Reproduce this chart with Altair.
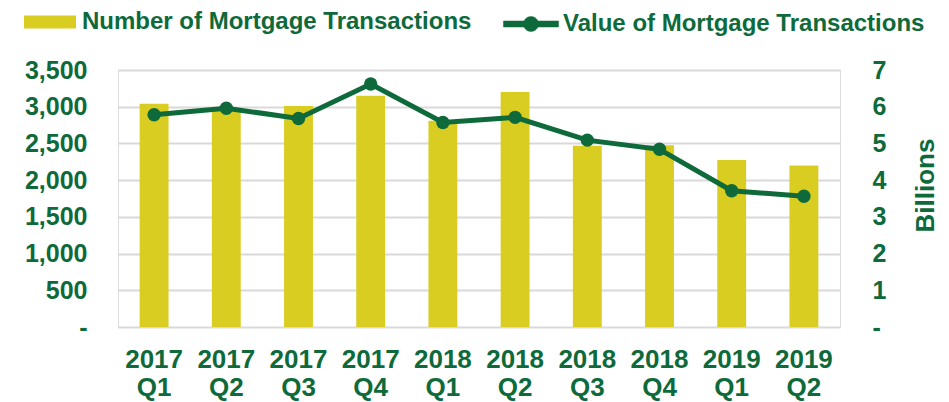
import altair as alt
import pandas as pd

quarters = ["2017 Q1", "2017 Q2", "2017 Q3", "2017 Q4", "2018 Q1",
            "2018 Q2", "2018 Q3", "2018 Q4", "2019 Q1", "2019 Q2"]
num_transactions = [3040, 2960, 3010, 3150, 2810, 3200, 2470, 2475, 2275, 2200]
value_billions = [5.78, 5.96, 5.68, 6.62, 5.57, 5.71, 5.09, 4.84, 3.71, 3.56]
bar_series = "Number of Mortgage Transactions"
line_series = "Value of Mortgage Transactions"

df = pd.DataFrame({
    "quarter": quarters,
    "count": num_transactions,
    "value": value_billions,
    "s1": bar_series,
    "s2": line_series,
})

GREEN = "#0E6A3A"
YELLOW = "#D8CD20"
GRID = "#D9D9D9"
FONT = "Liberation Sans"

x = alt.X(
    "quarter:N", sort=quarters, title=None,
    scale=alt.Scale(paddingInner=0.6, paddingOuter=0.3),
    axis=alt.Axis(labelAngle=0, labelExpr="split(datum.label, ' ')",
                  labelFontSize=26, labelFont=FONT, labelFontWeight="bold",
                  labelColor=GREEN, labelPadding=19, labelLineHeight=28,
                  ticks=False, domain=False),
)

bars = alt.Chart(df).mark_bar().encode(
    x=x,
    y=alt.Y("count:Q", title=None,
            scale=alt.Scale(domain=[0, 3500], nice=False),
            axis=alt.Axis(values=list(range(0, 3501, 500)),
                          labelExpr="datum.value == 0 ? '-' : format(datum.value, ',')",
                          grid=True, gridColor=GRID, gridWidth=2,
                          domain=False, ticks=False, labelPadding=31,
                          labelFont=FONT, labelFontSize=25, labelFontWeight="bold",
                          labelColor=GREEN)),
    fill=alt.Fill("s1:N", scale=alt.Scale(domain=[bar_series], range=[YELLOW]),
                  legend=alt.Legend(title=None, orient="none", legendX=-94, legendY=-74,
                                    symbolType="M-1,-0.25H1V0.25H-1Z", symbolSize=2704,
                                    symbolStrokeWidth=0, labelFont=FONT, labelFontSize=24,
                                    labelFontWeight="bold", labelColor=GREEN,
                                    labelOffset=6, labelLimit=600, padding=0)),
)

yr = alt.Y("value:Q", title="Billions",
           scale=alt.Scale(domain=[0, 7], nice=False),
           axis=alt.Axis(orient="right", values=list(range(0, 8)),
                         labelExpr="datum.value == 0 ? '-' : datum.label",
                         grid=False, domain=False, ticks=False, labelPadding=32,
                         labelFont=FONT, labelFontSize=25, labelFontWeight="bold",
                         labelColor=GREEN, titleFont=FONT, titleFontSize=26,
                         titleFontWeight="bold", titleColor=GREEN, titleAngle=270,
                         titleX=85, titleY=115, titleAlign="center",
                         titleBaseline="middle"))

line = alt.Chart(df).mark_line(strokeWidth=5).encode(
    x=x,
    y=yr,
    stroke=alt.Stroke("s2:N", scale=alt.Scale(domain=[line_series], range=[GREEN]),
                      legend=alt.Legend(title=None, orient="none", legendX=385, legendY=-74,
                                        symbolType="M-1,-0.11H1V0.11H-1Z M0.273,0A0.273,0.273 0 1,1 -0.273,0A0.273,0.273 0 1,1 0.273,0Z",
                                        symbolSize=3025, symbolFillColor=GREEN,
                                        symbolStrokeColor=GREEN, symbolStrokeWidth=0.5,
                                        labelFont=FONT, labelFontSize=24,
                                        labelFontWeight="bold", labelColor=GREEN,
                                        labelOffset=4, labelLimit=600, padding=0)),
)

points = alt.Chart(df).mark_circle(size=180, opacity=1, color=GREEN).encode(
    x=x,
    y=yr,
)

chart = alt.layer(bars, alt.layer(line, points)).resolve_scale(
    y="independent", fill="independent", stroke="independent"
).properties(
    width=722, height=257,
    autosize=alt.AutoSizeParams(type="none"),
    padding={"left": 110, "top": 62, "right": 101, "bottom": 80},
).configure_view(stroke=None).configure(background="white")

chart.save("out.html", embed_options={"renderer": "svg", "actions": False})
